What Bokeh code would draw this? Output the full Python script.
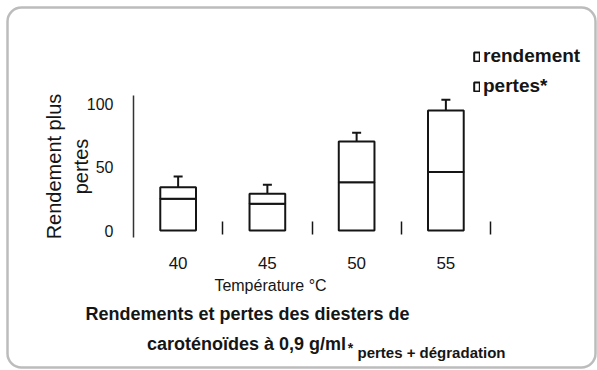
import numpy as np
from bokeh.plotting import figure
from bokeh.models import (Range1d, FixedTicker, Label, Legend, LegendItem, Whisker,
                          TeeHead, ColumnDataSource, BoxAnnotation, LinearAxis)
from bokeh.embed import file_html
from bokeh.resources import INLINE

# ---- data ----
temperatures = ["40", "45", "50", "55"]
rendement = [25, 21, 38, 46]
pertes = [9, 8, 32, 48.5]
err_total_upper = [42.5, 36, 77, 103]
err_rend_upper = [26.5, 23.5, 38, 53]
y_ticks = [0, 50, 100]

n = len(temperatures)
x = np.arange(n) + 0.5
total = np.array(rendement) + np.array(pertes)

src = ColumnDataSource(dict(x=x, rend=rendement, total=total,
                            hi_t=err_total_upper, hi_r=err_rend_upper))

FONT = "Liberation Sans"
INK = "#151515"
W, H = 597, 370

# layout: axis origin placement in canvas pixels
X0_PX, XN_PX = 133, 490          # x = 0 and x = n
Y0_PX, Y100_PX = 230, 103        # y = 0 and y = 100
sx = (XN_PX - X0_PX) / n
sy = (Y0_PX - Y100_PX) / 100.0

def dx(px):
    return (px - X0_PX) / sx

def dy(py):
    return (Y0_PX - py) / sy

p = figure(width=W, height=H, output_backend="svg", toolbar_location=None,
           x_range=Range1d(dx(0), dx(W)), y_range=Range1d(dy(H), dy(0)),
           min_border=0, x_axis_location=None, y_axis_location=None)
p.outline_line_color = None
p.grid.visible = False
p.background_fill_color = "white"
p.border_fill_color = "white"

# bars: rendement (bottom) and pertes (top)
r_rend = p.vbar(x="x", bottom=0, top="rend", width=0.4, source=src,
                fill_color="white", line_color=INK, line_width=2)
r_pert = p.vbar(x="x", bottom="rend", top="total", width=0.4, source=src,
                fill_color="white", line_color=INK, line_width=2)

p.add_layout(Whisker(base="x", lower="total", upper="hi_t", source=src,
                     line_color=INK, line_width=2, lower_head=None,
                     upper_head=TeeHead(size=9, line_width=2, line_color=INK)))
p.add_layout(Whisker(base="x", lower="rend", upper="hi_r", source=src,
                     line_color=INK, line_width=2, lower_head=None,
                     upper_head=TeeHead(size=9, line_width=2, line_color=INK)))

y_lo, y_hi = dy(237), dy(95)

# y axis
ya = LinearAxis(fixed_location=0, bounds=(y_lo, y_hi))
ya.ticker = FixedTicker(ticks=y_ticks)
ya.axis_line_color = "#333333"
ya.axis_line_width = 1.5
ya.major_tick_line_color = None
ya.minor_tick_line_color = None
ya.major_tick_out = 0
ya.major_tick_in = 0
ya.major_label_standoff = 20
ya.major_label_text_font = FONT
ya.major_label_text_font_size = "16px"
ya.major_label_text_color = INK
ya.axis_label = "Rendement plus\npertes"
ya.axis_label_text_font = FONT
ya.axis_label_text_font_size = "20px"
ya.axis_label_text_font_style = "normal"
ya.axis_label_text_color = INK
ya.axis_label_standoff = -8
p.add_layout(ya, "left")

# x axis: labels at centres, small ticks at boundaries
xa = LinearAxis(fixed_location=y_lo, bounds=(0, n))
xa.ticker = FixedTicker(ticks=list(x), minor_ticks=list(np.arange(1, n + 1)))
xa.major_label_overrides = {float(v): t for v, t in zip(x, temperatures)}
xa.axis_line_color = None
xa.major_tick_line_color = None
xa.major_tick_out = 0
xa.major_tick_in = 0
xa.minor_tick_line_color = INK
xa.minor_tick_line_width = 1.5
xa.minor_tick_in = 16
xa.minor_tick_out = -3
xa.major_label_standoff = 19
xa.major_label_text_font = FONT
xa.major_label_text_font_size = "17px"
xa.major_label_text_color = INK
p.add_layout(xa, "below")

# legend
legend = Legend(items=[LegendItem(label="rendement", renderers=[r_rend]),
                       LegendItem(label="pertes*", renderers=[r_pert])],
                location=(473, H - 97), orientation="vertical",
                glyph_width=7, glyph_height=11, label_height=11,
                label_standoff=3, spacing=8, padding=0, margin=0,
                background_fill_alpha=0, border_line_color=None,
                label_text_font=FONT, label_text_font_size="19px",
                label_text_font_style="bold", label_text_color=INK)
p.add_layout(legend, "center")

# texts (positions converted from canvas pixels)
def lab(px, py, text, size, style="normal", align="center", baseline="middle"):
    p.add_layout(Label(x=dx(px), y=dy(py), text=text,
                       text_font=FONT, text_font_size=size, text_font_style=style,
                       text_align=align, text_baseline=baseline, text_color=INK))

lab(270, 285, "Température °C", "16px")
lab(247, 313, "Rendements et pertes des diesters de", "18px", "bold")
lab(246, 343, "caroténoïdes à 0,9 g/ml", "18px", "bold")
lab(350, 347, "*", "14px", "bold")
lab(357, 352, "pertes + dégradation", "15px", "bold", align="left")

# rounded frame around the whole chart
p.add_layout(BoxAnnotation(left=dx(7), right=dx(595), top=dy(7), bottom=dy(367),
                           fill_color=None, line_color="#222222", line_width=2.5,
                           border_radius=14, level="overlay"))

open("out.html", "w").write(file_html(p, INLINE))
